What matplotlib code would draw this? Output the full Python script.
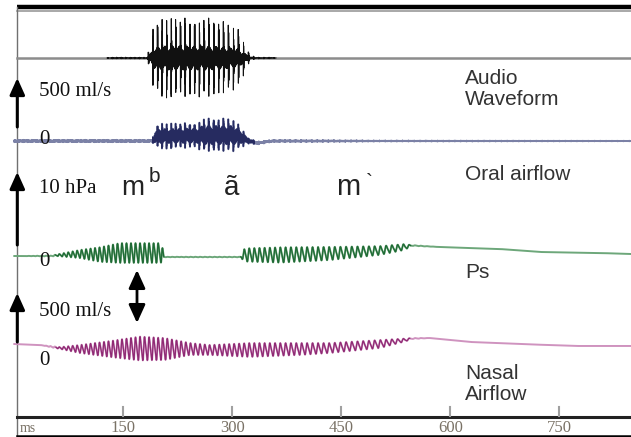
import numpy as np
import matplotlib.pyplot as plt

# ---- data ----------------------------------------------------------------
T_END = 850.0   # ms shown
DT = 0.1        # ms per sample

# voice fundamental (Hz), from the cycle spacing of the traces
F0_T = [0, 200, 330, 450, 560, 850]
F0_HZ = [165, 160, 142, 128, 125, 125]

# audio waveform envelope (relative units)
AUDIO_T = [0, 125, 135, 182, 187, 192, 205, 270, 290, 308, 318, 324, 332, 355, 362, 850]
AUDIO_AMP = [0.0, 0.0, 0.02, 0.02, 0.3, 0.85, 1.0, 1.0, 0.9, 0.75, 0.35, 0.1, 0.02, 0.02, 0.0, 0.0]

# oral airflow (ml/s): running mean and oscillation amplitude
ORAL_T = [0, 190, 194, 200, 250, 260, 300, 312, 322, 335, 355, 500, 850]
ORAL_MEAN = [0, 0, 40, 50, 55, 60, 60, 40, 0, -20, 0, 0, 0]
ORAL_AMP = [12, 12, 100, 130, 130, 170, 170, 110, 30, 15, 10, 4, 2]

# Ps (hPa)
PS_T = [0, 50, 59, 90, 118, 145, 200, 203, 206, 311, 317, 366, 434, 503, 537, 547, 586, 668, 723, 806, 850]
PS_MEAN = [0.0, 0.0, 0.1, 0.27, 0.2, 0.41, 0.41, 0.41, -0.14, -0.14, 0.14, 0.14, 0.34, 0.75, 1.23, 1.44, 1.23, 0.96, 0.55, 0.41, 0.27]
PS_AMP = [0.0, 0.05, 0.12, 0.55, 1.0, 1.35, 1.35, 1.3, 0.03, 0.03, 0.9, 1.05, 0.9, 0.6, 0.4, 0.05, 0.0, 0.0, 0.0, 0.0, 0.0]

# nasal airflow (ml/s)
NASAL_T = [0, 35, 63, 90, 132, 173, 207, 242, 269, 324, 393, 434, 503, 538, 547, 572, 627, 696, 772, 850]
NASAL_MEAN = [10, 0, -31, -41, -41, -36, -41, -41, -51, -51, -41, -31, 10, 51, 66, 71, 31, 10, -10, -10]
NASAL_AMP = [0, 0, 10, 41, 82, 122, 112, 61, 51, 71, 61, 51, 41, 15, 5, 0, 0, 0, 0, 0]

TICKS_MS = [150, 300, 450, 600, 750]
SEGMENTS = ["m", "ã", "m"]

# ---- layout (figure pixels) -----------------------------------------------
W, H = 631, 437
PX_PER_MS = 109 / 150
X0_PX = 14.3
ML_PX = 49 / 500     # px per ml/s
HPA_PX = 73 / 10     # px per hPa
AUDIO_PX = 40        # px per audio unit

AUDIO_Y0 = 58
ORAL_Y0 = 141
PS_Y0 = 256
NASAL_Y0 = 345
LEFT_PX = 17.3

SERIF = "Liberation Serif"
SANS = "Liberation Sans"


def xp(px):
    return (px - X0_PX) / PX_PER_MS


def pulse_train(tp, t, width, core):
    # short full-height burst at each glottal pulse, low ripple in between
    gate = np.exp(-(tp / width) ** 4)
    burst = gate * np.cos(2 * np.pi * 2.7 * tp)
    ripple = core * (1 - gate) * (np.sin(2 * np.pi * 1.1 * t) + 0.4 * np.sin(2 * np.pi * 2.3 * t)) / 1.4
    return burst + ripple


t = np.arange(0, T_END + DT, DT)
f0 = np.interp(t, F0_T, F0_HZ)
cycles = np.cumsum(f0 * DT / 1000.0)
tp = (cycles % 1.0) / f0 * 1000.0

smooth = np.sin(2 * np.pi * cycles) + 0.25 * np.sin(4 * np.pi * cycles)
smooth /= np.abs(smooth).max()
buzz = pulse_train(tp, t, 1.1, 0.3)
oral_shape = pulse_train(tp, t, 1.0, 0.55)

audio_env = np.interp(t, AUDIO_T, AUDIO_AMP)
audio_y = AUDIO_Y0 - AUDIO_PX * audio_env * buzz

oral_amp = np.interp(t, ORAL_T, ORAL_AMP)
oral_y = ORAL_Y0 - ML_PX * (np.interp(t, ORAL_T, ORAL_MEAN) + oral_amp * oral_shape)

ps_amp = np.interp(t, PS_T, PS_AMP)
ps_y = PS_Y0 - HPA_PX * (np.interp(t, PS_T, PS_MEAN) + ps_amp * smooth)

nasal_amp = np.interp(t, NASAL_T, NASAL_AMP)
nasal_y = NASAL_Y0 - ML_PX * (np.interp(t, NASAL_T, NASAL_MEAN) + nasal_amp * smooth)

fig = plt.figure(figsize=(W / 100, H / 100), dpi=100)
ax = fig.add_axes([0, 0, 1, 1])
ax.set_xlim(xp(0), xp(W))
ax.set_ylim(H, 0)
ax.axis("off")

x_left = xp(LEFT_PX)
x_right = xp(W)

# frame
ax.plot([x_left, x_right], [7, 7], color="black", lw=3.2, solid_capstyle="butt")
ax.plot([x_left, x_right], [10.5, 10.5], color="#9a9a9a", lw=1.2)
ax.plot([x_left, x_left], [7, H], color="#707070", lw=1.0)
ax.plot([x_left, x_right], [417, 417], color="#222222", lw=2.2)
ax.plot([x_left, x_right], [435.8, 435.8], color="black", lw=1.8)

# traces: light full line, darker overlay where voiced
ax.plot([x_left, x_right], [AUDIO_Y0, AUDIO_Y0], color="#8c8c8c", lw=1.8)
ax.plot(t, np.where(audio_env > 0.005, audio_y, np.nan), color="#111111", lw=0.7)

ax.plot(t, oral_y, color="#7b81a6", lw=1.4)
ax.plot(t, np.where(oral_amp > 20, oral_y, np.nan), color="#262b60", lw=0.7)

ax.plot(t, ps_y, color="#6da77a", lw=1.4)
ax.plot(t, np.where(ps_amp > 0.1, ps_y, np.nan), color="#1f6a35", lw=0.9)

ax.plot(t, nasal_y, color="#cf93bf", lw=1.4)
ax.plot(t, np.where(nasal_amp > 8, nasal_y, np.nan), color="#8f2a74", lw=0.9)

# calibration arrows on the left edge
for bottom, length in [(127, 500 * ML_PX), (245, 10 * HPA_PX), (342, 500 * ML_PX)]:
    ax.annotate("", xy=(x_left, bottom - length), xytext=(x_left, bottom),
                arrowprops=dict(arrowstyle="-|>,head_width=0.45,head_length=1.0",
                                lw=2.2, color="black", shrinkA=0, shrinkB=0))

# double arrow between Ps and nasal traces
mid = 296.5
half = 500 * ML_PX / 2 + 2
ax.annotate("", xy=(xp(137), mid - half), xytext=(xp(137), mid + half),
            arrowprops=dict(arrowstyle="<|-|>,head_width=0.5,head_length=1.1",
                            lw=2.0, color="black", shrinkA=0, shrinkB=0))

# calibration labels
ax.text(xp(39), 96, "500 ml/s", family=SERIF, fontsize=15, color="#111111")
ax.text(xp(39), 193, "10 hPa", family=SERIF, fontsize=15, color="#111111")
ax.text(xp(39), 316, "500 ml/s", family=SERIF, fontsize=15, color="#111111")
for y0 in [144, 266, 365]:
    ax.text(xp(39), y0, "0", family=SERIF, fontsize=15, color="#111111")

# channel names
ax.text(xp(465), 105, "Audio\nWaveform", family=SANS, fontsize=15, color="#333333",
        linespacing=1.15)
ax.text(xp(465), 180, "Oral airflow", family=SANS, fontsize=15, color="#333333")
ax.text(xp(465), 278, "Ps", family=SANS, fontsize=15, color="#333333")
ax.text(xp(465), 400, "Nasal\nAirflow", family=SANS, fontsize=15, color="#333333",
        linespacing=1.15)

# phonetic segments
ax.text(xp(121), 195, SEGMENTS[0], family=SANS, fontsize=20, color="#222222")
ax.text(xp(149), 182, "b", family=SANS, fontsize=15, color="#222222")
ax.text(xp(224), 195, SEGMENTS[1], family=SANS, fontsize=20, color="#222222")
ax.text(xp(336), 195, SEGMENTS[2], family=SANS, fontsize=21, color="#222222")
ax.text(xp(366), 188, "`", family=SANS, fontsize=15, color="#222222")

# time axis
for ms in TICKS_MS:
    ax.plot([ms, ms], [407, 416], color="#a0a0a0", lw=1.5)
    ax.text(ms, 432, str(ms), family=SERIF, fontsize=12, color="#7a7266", ha="center")
ax.text(xp(20), 432, "ms", family=SERIF, fontsize=10, color="#7a7266")

fig.savefig("out.png", dpi=100)
